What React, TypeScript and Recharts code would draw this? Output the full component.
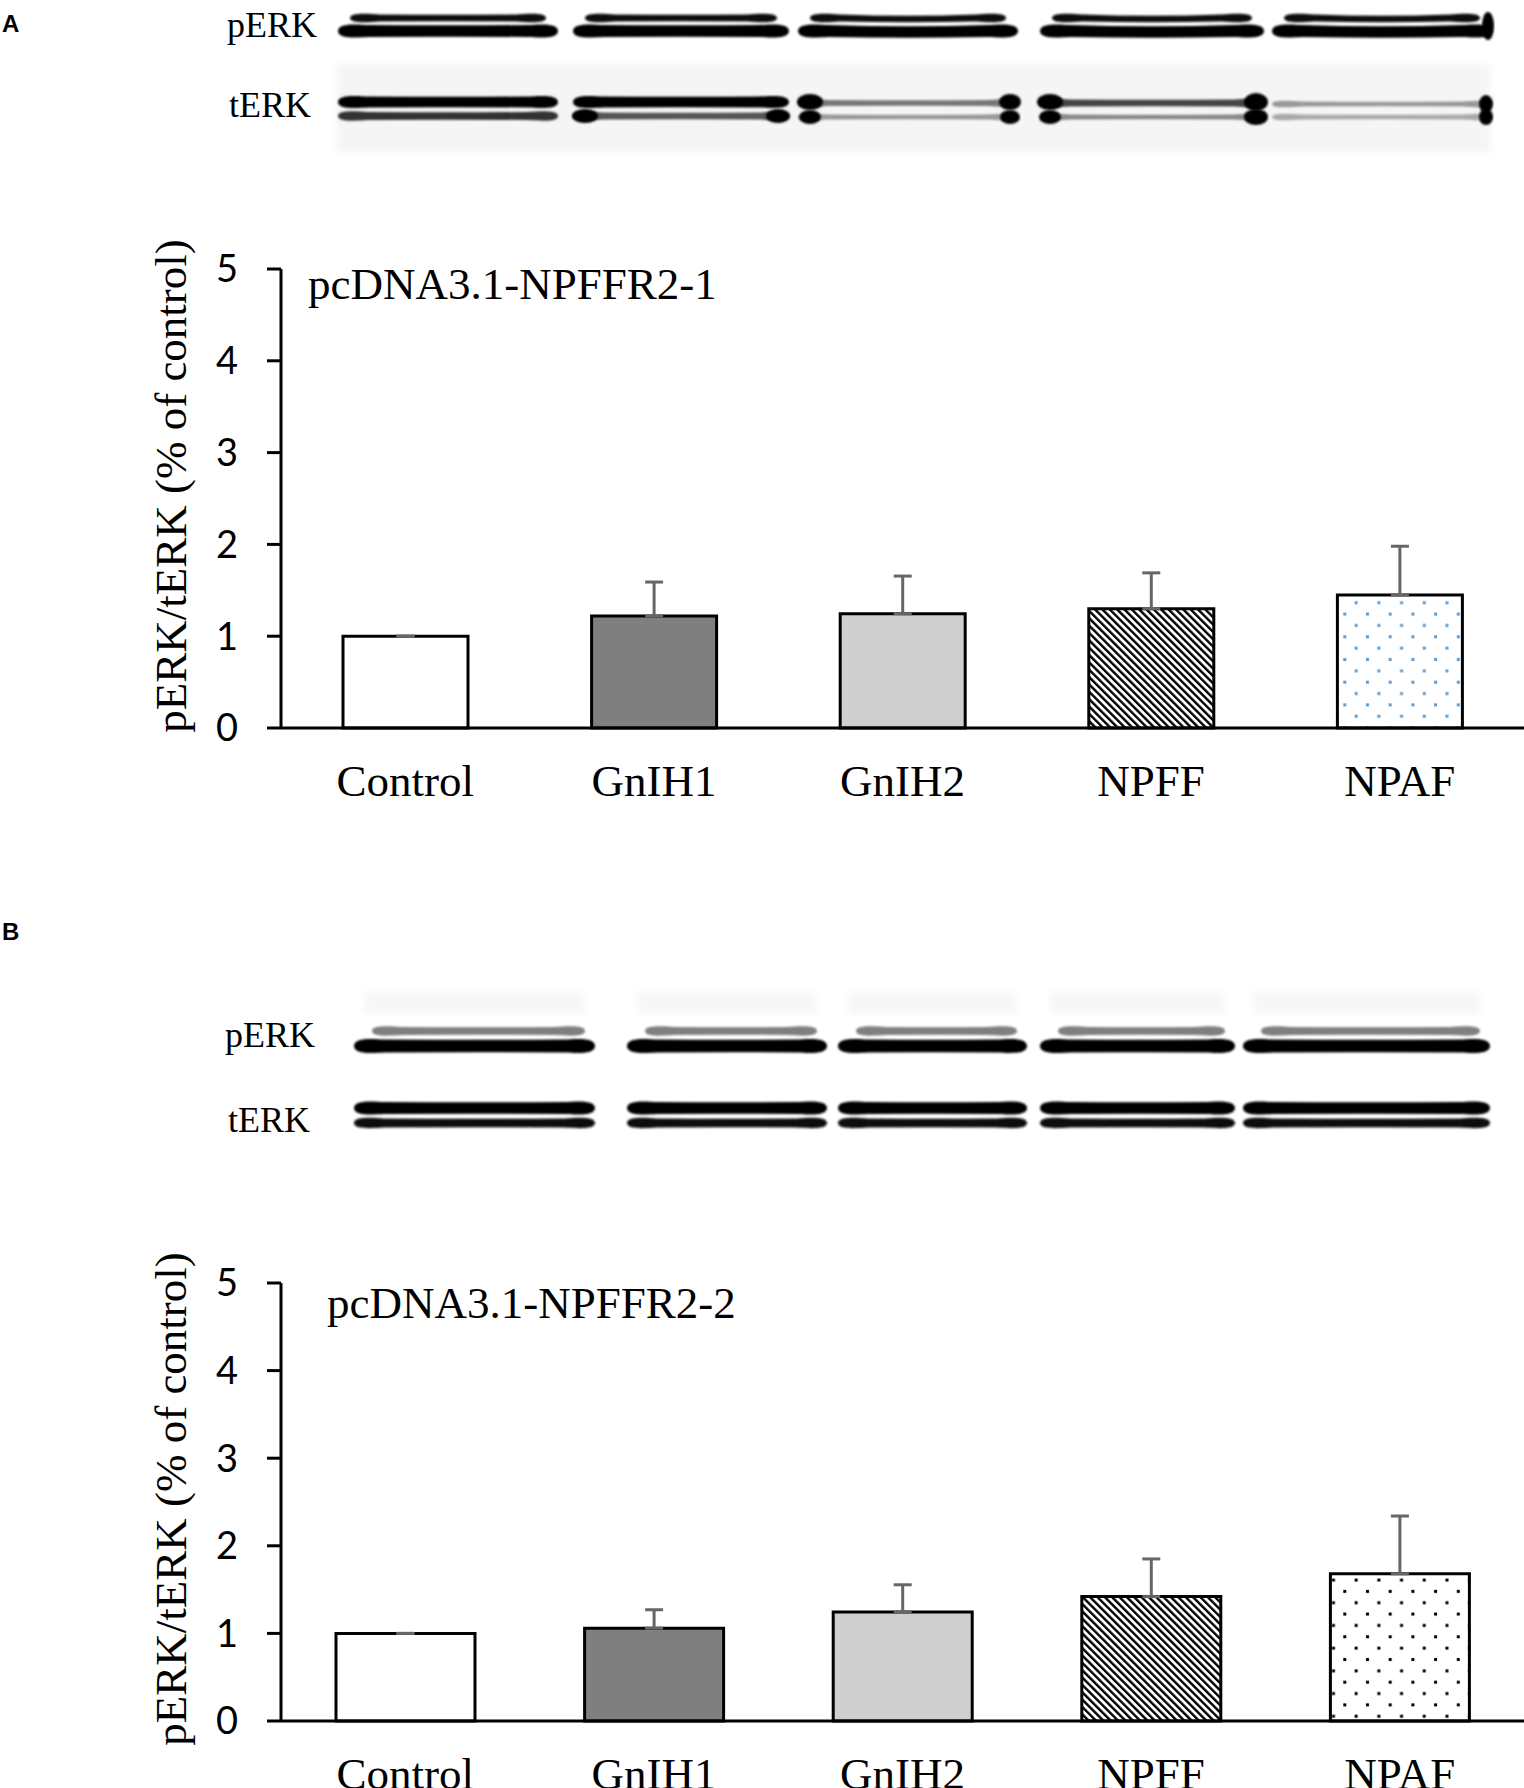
import React from "react";
import { BarChart, Bar, XAxis, YAxis, Cell, ErrorBar } from "recharts";

// values (ratio to control)
const categories = ["Control", "GnIH1", "GnIH2", "NPFF", "NPAF"];
const meansA = [1.0, 1.22, 1.245, 1.3, 1.45];
const semA = [0, 0.37, 0.41, 0.39, 0.53];
const meansB = [1.0, 1.06, 1.245, 1.42, 1.68];
const semB = [0, 0.21, 0.31, 0.43, 0.66];
const yTicks = [0, 1, 2, 3, 4, 5];

const SERIF = "'Liberation Serif', 'Times New Roman', serif";
const SANS = "Lato, 'Open Sans', sans-serif";

const fillsA = ["#ffffff", "#7f7f7f", "#d0cfd0", "url(#hatch)", "url(#dotsBlue)"];
const fillsB = ["#ffffff", "#7f7f7f", "#d0cfd0", "url(#hatch)", "url(#dotsBlack)"];

const toRows = (means: number[], sem: number[]) =>
  categories.map((name, i) => ({ name, value: means[i], err: [0, sem[i]] }));

const dataA = toRows(meansA, semA);
const dataB = toRows(meansB, semB);

// blot lanes (decoration, pixel layout)
const lanesA = [
  [338, 558],
  [573, 789],
  [798, 1018],
  [1040, 1264],
  [1272, 1492],
];
const lanesB = [
  [354, 595],
  [627, 827],
  [838, 1027],
  [1040, 1235],
  [1243, 1490],
];

function Band({ x1, x2, y, h, color, op = 1, tilt = 0 }: any) {
  // slightly bowed band, thicker at the ends like a real lane
  const m = (x1 + x2) / 2;
  const top = y - h / 2;
  const bot = y + h / 2;
  const d = `M ${x1} ${y}
    C ${x1} ${top - 2}, ${x1 + 20} ${top}, ${x1 + 30} ${top + 0.5}
    Q ${m} ${top + 1 + tilt}, ${x2 - 30} ${top + 0.5}
    C ${x2 - 20} ${top}, ${x2} ${top - 2}, ${x2} ${y}
    C ${x2} ${bot + 2}, ${x2 - 20} ${bot}, ${x2 - 30} ${bot - 0.5}
    Q ${m} ${bot - 1 + tilt}, ${x1 + 30} ${bot - 0.5}
    C ${x1 + 20} ${bot}, ${x1} ${bot + 2}, ${x1} ${y} Z`;
  return <path d={d} fill={color} opacity={op} filter="url(#blur)" />;
}

function Blob({ cx, cy, rx, ry }: any) {
  return <ellipse cx={cx} cy={cy} rx={rx} ry={ry} fill="#000" filter="url(#blur)" />;
}

function Backdrop() {
  return (
    <svg width={1524} height={1788} style={{ position: "absolute", left: 0, top: 0 }}>
      <defs>
        <filter id="blur" x="-5%" y="-60%" width="110%" height="220%">
          <feGaussianBlur stdDeviation="1.2" />
        </filter>
        <filter id="soft" x="-5%" y="-20%" width="110%" height="140%">
          <feGaussianBlur stdDeviation="3" />
        </filter>
        <pattern
          id="hatch"
          patternUnits="userSpaceOnUse"
          width={5.2}
          height={5.2}
          patternTransform="rotate(-45)"
        >
          <rect x={0} y={0} width={5.2} height={5.2} fill="#fff" />
          <rect x={0} y={0} width={2.4} height={5.2} fill="#000" />
        </pattern>
        <pattern id="dotsBlue" patternUnits="userSpaceOnUse" width={22.7} height={22.7}>
          <rect x={0} y={0} width={22.7} height={22.7} fill="#fff" />
          <rect x={4} y={4} width={3} height={3} fill="#5b9bd5" />
          <rect x={15.35} y={15.35} width={3} height={3} fill="#5b9bd5" />
        </pattern>
        <pattern id="dotsBlack" patternUnits="userSpaceOnUse" width={22.7} height={22.7}>
          <rect x={0} y={0} width={22.7} height={22.7} fill="#fff" />
          <rect x={4} y={4} width={3} height={3} fill="#000" />
          <rect x={15.35} y={15.35} width={3} height={3} fill="#000" />
        </pattern>
      </defs>

      {/* panel letters */}
      <text x={2} y={32} fontFamily="'Liberation Sans', Arial, sans-serif" fontWeight="bold" fontSize={24}>
        A
      </text>
      <text x={2} y={940} fontFamily="'Liberation Sans', Arial, sans-serif" fontWeight="bold" fontSize={24}>
        B
      </text>

      {/* blot A */}
      <text x={317} y={37} textAnchor="end" fontFamily={SERIF} fontSize={36}>pERK</text>
      <text x={311} y={117} textAnchor="end" fontFamily={SERIF} fontSize={36}>tERK</text>
      <rect x={337} y={64} width={1153} height={89} fill="#f5f5f5" filter="url(#soft)" />
      {lanesA.map(([a, b], i) => (
        <g key={"pa" + i}>
          <Band x1={a + 12} x2={b - 12} y={18} h={8} color="#111" tilt={i > 1 ? 2 : 0} />
          <Band x1={a} x2={b} y={31} h={13} color="#000" tilt={i > 1 ? 2 : 0} />
        </g>
      ))}
      <Blob cx={1488} cy={26} rx={6} ry={14} />
      {/* tERK A */}
      <Band x1={338} x2={558} y={102} h={12} color="#000" />
      <Band x1={338} x2={558} y={116} h={9} color="#333" />
      <Band x1={573} x2={789} y={102} h={12} color="#000" />
      <Band x1={573} x2={789} y={116} h={8} color="#555" />
      <Blob cx={585} cy={116} rx={13} ry={7} />
      <Blob cx={778} cy={116} rx={12} ry={7} />
      <Band x1={798} x2={1018} y={103} h={7} color="#777" />
      <Band x1={798} x2={1018} y={117} h={6} color="#999" />
      <Blob cx={810} cy={102} rx={13} ry={8} />
      <Blob cx={810} cy={117} rx={11} ry={7} />
      <Blob cx={1010} cy={102} rx={11} ry={8} />
      <Blob cx={1010} cy={117} rx={10} ry={7} />
      <Band x1={1040} x2={1264} y={103} h={8} color="#444" />
      <Band x1={1040} x2={1264} y={117} h={6} color="#888" />
      <Blob cx={1050} cy={102} rx={13} ry={8} />
      <Blob cx={1050} cy={117} rx={11} ry={7} />
      <Blob cx={1256} cy={102} rx={12} ry={9} />
      <Blob cx={1256} cy={117} rx={12} ry={8} />
      <Band x1={1272} x2={1492} y={104} h={6} color="#999" />
      <Band x1={1272} x2={1492} y={117} h={6} color="#aaa" />
      <Blob cx={1486} cy={104} rx={7} ry={9} />
      <Blob cx={1486} cy={117} rx={7} ry={8} />

      {/* blot B */}
      <text x={315} y={1047} textAnchor="end" fontFamily={SERIF} fontSize={36}>pERK</text>
      <text x={310} y={1132} textAnchor="end" fontFamily={SERIF} fontSize={36}>tERK</text>
      {lanesB.map(([a, b], i) => (
        <g key={"pb" + i}>
          <rect x={a + 10} y={992} width={b - a - 20} height={22} fill="#eee" opacity={0.45} filter="url(#soft)" />
          <Band x1={a + 18} x2={b - 10} y={1031} h={9} color="#555" op={0.75} />
          <Band x1={a} x2={b} y={1046} h={14} color="#000" />
          <Band x1={a} x2={b} y={1108} h={13} color="#000" />
          <Band x1={a} x2={b} y={1123} h={10} color="#111" />
        </g>
      ))}

      {/* chart titles */}
      <text x={308} y={299} fontFamily={SERIF} fontSize={45}>pcDNA3.1-NPFFR2-1</text>
      <text x={327} y={1318} fontFamily={SERIF} fontSize={45}>pcDNA3.1-NPFFR2-2</text>

      {/* y axis titles */}
      <text
        x={186}
        y={486}
        transform="rotate(-90 186 486)"
        textAnchor="middle"
        fontFamily={SERIF}
        fontSize={45}
      >
        pERK/tERK (% of control)
      </text>
      <text
        x={186}
        y={1499}
        transform="rotate(-90 186 1499)"
        textAnchor="middle"
        fontFamily={SERIF}
        fontSize={45}
      >
        pERK/tERK (% of control)
      </text>
    </svg>
  );
}

function CategoryTick(props: any) {
  const { x, y, payload } = props;
  return (
    <text x={x} y={y + 68} textAnchor="middle" fontFamily={SERIF} fontSize={45} fill="#000">
      {payload.value}
    </text>
  );
}

function Panel({ data, fills, top, height, marginTop, xHeight, barSize }: any) {
  return (
    <div style={{ position: "absolute", left: 0, top, width: 1524, height }}>
      <BarChart
        width={1524}
        height={height}
        data={data}
        margin={{ top: marginTop, right: 0, left: 0, bottom: 0 }}
      >
        <XAxis
          dataKey="name"
          interval={0}
          height={xHeight}
          axisLine={{ stroke: "#000", strokeWidth: 3 }}
          tickLine={false}
          tickSize={0}
          tickMargin={0}
          tick={(p: any) => <CategoryTick {...p} />}
        />
        <YAxis
          domain={[0, 5]}
          ticks={yTicks}
          interval={0}
          width={281}
          axisLine={{ stroke: "#000", strokeWidth: 3 }}
          tickLine={{ stroke: "#000", strokeWidth: 3 }}
          tickSize={14}
          tickMargin={29}
          tick={{ fill: "#000", fontSize: 38, fontFamily: SANS }}
        />
        <Bar
          dataKey="value"
          barSize={barSize}
          stroke="#000"
          strokeWidth={3}
          isAnimationActive={false}
        >
          {data.map((d: any, i: number) => (
            <Cell key={d.name} fill={fills[i]} />
          ))}
          <ErrorBar
            dataKey="err"
            direction="y"
            width={9}
            stroke="#666"
            strokeWidth={3}
            isAnimationActive={false}
          />
        </Bar>
      </BarChart>
    </div>
  );
}

export default function App() {
  return (
    <div
      style={{
        position: "absolute",
        left: 0,
        top: 0,
        width: 1524,
        height: 1788,
        background: "#fff",
        overflow: "hidden",
      }}
    >
      <Backdrop />
      <Panel data={dataA} fills={fillsA} top={200} height={620} marginTop={69} xHeight={92} barSize={125} />
      <Panel data={dataB} fills={fillsB} top={1200} height={588} marginTop={83} xHeight={67} barSize={139} />
    </div>
  );
}
